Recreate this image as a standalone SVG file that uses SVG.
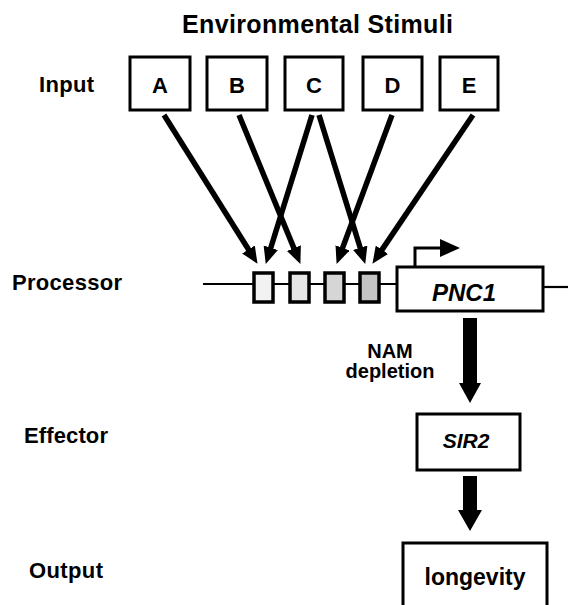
<svg xmlns="http://www.w3.org/2000/svg" width="568" height="605" viewBox="0 0 568 605">
<defs>
<style>
text{font-family:"Liberation Sans",Arial,Helvetica,sans-serif;font-weight:bold;fill:#000}
.lab{font-size:22px}
.let{font-size:22px;text-anchor:middle}
.box{fill:#fff;stroke:#000;stroke-width:3}
.sbox{stroke:#000;stroke-width:3.5}
.arr{stroke:#000;stroke-width:5.5;fill:none;marker-end:url(#ah)}
.thin{stroke:#000;stroke-width:2.2;fill:none}
.fat{fill:#000}
</style>
<marker id="ah" markerUnits="userSpaceOnUse" markerWidth="17" markerHeight="15" refX="1" refY="7.5" orient="auto">
<path d="M0,0 L17,7.5 L0,15 z" fill="#000"/>
</marker>
</defs>
<rect width="568" height="605" fill="#fff"/>

<text x="317.5" y="33" font-size="25" text-anchor="middle" textLength="271" lengthAdjust="spacing">Environmental Stimuli</text>
<text class="lab" x="39" y="92" textLength="55" lengthAdjust="spacing">Input</text>
<text class="lab" x="12" y="290" textLength="110" lengthAdjust="spacing">Processor</text>
<text class="lab" x="24" y="443" textLength="84" lengthAdjust="spacing">Effector</text>
<text class="lab" x="29" y="578" textLength="74" lengthAdjust="spacing">Output</text>

<g id="nodeA"><rect class="box" x="130" y="57" width="60" height="53"/><text class="let" x="160" y="93">A</text></g>
<g id="nodeB"><rect class="box" x="207" y="57" width="60" height="53"/><text class="let" x="237" y="93">B</text></g>
<g id="nodeC"><rect class="box" x="285" y="57" width="58" height="53"/><text class="let" x="314" y="93">C</text></g>
<g id="nodeD"><rect class="box" x="363" y="57" width="59" height="53"/><text class="let" x="392.5" y="93">D</text></g>
<g id="nodeE"><rect class="box" x="440" y="57" width="58" height="53"/><text class="let" x="469" y="93">E</text></g>

<g id="dna">
<line class="thin" x1="203" y1="284" x2="397" y2="284"/>
<line class="thin" x1="543" y1="287" x2="568" y2="287"/>
</g>
<g id="site1"><rect class="sbox" x="254" y="273" width="19" height="29" fill="#f2f2f2"/></g>
<g id="site2"><rect class="sbox" x="290" y="273" width="19" height="29" fill="#e6e6e6"/></g>
<g id="site3"><rect class="sbox" x="325" y="273" width="19" height="29" fill="#d6d6d6"/></g>
<g id="site4"><rect class="sbox" x="360" y="273" width="19" height="29" fill="#c4c4c4"/></g>

<g id="pnc1">
<rect class="box" x="397" y="267" width="146" height="44"/>
<text x="464" y="301" font-size="24" font-style="italic" text-anchor="middle">PNC1</text>
</g>

<g id="sir2">
<rect class="box" x="417" y="414" width="103" height="56"/>
<text x="466" y="448" font-size="21" font-style="italic" text-anchor="middle">SIR2</text>
</g>

<g id="longevity">
<rect class="box" x="403" y="543" width="144" height="70"/>
<text x="475" y="585" font-size="23" text-anchor="middle">longevity</text>
</g>

<g id="connectors">
<line class="arr" x1="164" y1="115" x2="249" y2="250.3"/>
<line class="arr" x1="239" y1="115" x2="294.3" y2="249.1"/>
<line class="arr" x1="312" y1="115" x2="270.5" y2="248.7"/>
<line class="arr" x1="319" y1="115" x2="360.5" y2="248.7"/>
<line class="arr" x1="392" y1="115" x2="342.2" y2="248.9"/>
<line class="arr" x1="473" y1="115" x2="381.4" y2="250.6"/>
<path d="M415,267 V248 H442" stroke="#000" stroke-width="3" fill="none"/>
<polygon class="fat" points="440,239 460,248 440,257"/>
<polygon class="fat" points="463,318 477,318 477,383 481,383 470,403 459,383 463,383"/>
<polygon class="fat" points="463,476 477,476 477,510 482,510 470,531 458,510 463,510"/>
<text x="390" y="358" font-size="20" text-anchor="middle">NAM</text>
<text x="390" y="378" font-size="20" text-anchor="middle">depletion</text>
</g>
</svg>
